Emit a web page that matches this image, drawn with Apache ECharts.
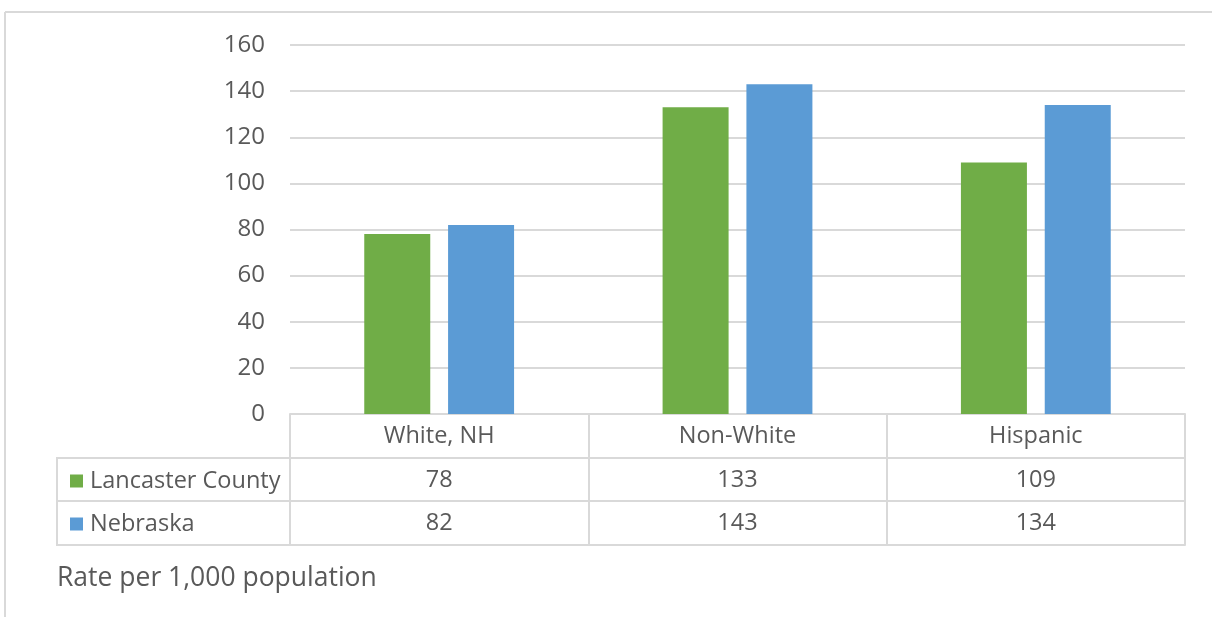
<!DOCTYPE html>
<html><head><meta charset="utf-8">
<script src="https://cdn.jsdelivr.net/npm/echarts@6/dist/echarts.min.js"></script>
<style>html,body{margin:0;padding:0;background:#fff;}#c{width:1212px;height:617px;}</style>
</head><body><div id="c"></div>
<script>
const categories = ['White, NH', 'Non-White', 'Hispanic'];
const seriesNames = ['Lancaster County', 'Nebraska'];
const lancaster = [78, 133, 109];
const nebraska = [82, 143, 134];
const yTicks = {min: 0, max: 160, interval: 20};
const caption = 'Rate per 1,000 population';

const FONT = 'Open Sans';
const TXT = '#595959';
const LINE = '#d9d9d9';
const chart = echarts.init(document.getElementById('c'));

function tableAxis(offset, values, tickLen) {
  return {
    type: 'category', data: categories, position: 'bottom', offset: offset,
    axisLine: {show: true, lineStyle: {color: LINE, width: 2}},
    axisTick: {show: true, length: tickLen, lineStyle: {color: LINE, width: 2}},
    axisLabel: {show: !!values, margin: 22, verticalAlign: 'middle', color: TXT,
      fontFamily: FONT, fontSize: 23.5,
      formatter: values ? (v, i) => String(values[i]) : undefined},
    splitLine: {show: false}
  };
}

chart.setOption({
  animation: false,
  grid: {left: 290, right: 27, top: 45, bottom: 203, containLabel: false},
  legend: {
    orient: 'vertical', left: 65, top: 463, itemGap: 17,
    icon: 'rect', itemWidth: 13, itemHeight: 13,
    textStyle: {color: TXT, fontFamily: FONT, fontSize: 23.5, lineHeight: 26, padding: [0,0,0,2]},
    data: seriesNames
  },
  xAxis: [
    tableAxis(0, categories, 44),
    tableAxis(44, lancaster, 43),
    tableAxis(87, nebraska, 44),
    Object.assign(tableAxis(131, null, 0), {axisTick: {show: false}})
  ],
  yAxis: {
    type: 'value', min: yTicks.min, max: yTicks.max, interval: yTicks.interval,
    axisLine: {show: false}, axisTick: {show: false},
    axisLabel: {color: TXT, fontFamily: FONT, fontSize: 24, margin: 25},
    splitLine: {lineStyle: {color: LINE, width: 2}}
  },
  series: [
    {name: seriesNames[0], type: 'bar', data: lancaster, xAxisIndex: 0,
      barWidth: 66, barGap: '27%', itemStyle: {color: '#70AD47'}},
    {name: seriesNames[1], type: 'bar', data: nebraska, xAxisIndex: 0,
      barWidth: 66, barGap: '27%', itemStyle: {color: '#5B9BD5'}}
  ],
  graphic: [
    {type: 'line', shape: {x1: 5, y1: 12, x2: 1212, y2: 12}, style: {stroke: LINE, lineWidth: 2}},
    {type: 'line', shape: {x1: 5, y1: 12, x2: 5, y2: 617}, style: {stroke: LINE, lineWidth: 2}},
    {type: 'line', shape: {x1: 57, y1: 458, x2: 290, y2: 458}, style: {stroke: LINE, lineWidth: 2}},
    {type: 'line', shape: {x1: 57, y1: 501, x2: 290, y2: 501}, style: {stroke: LINE, lineWidth: 2}},
    {type: 'line', shape: {x1: 57, y1: 545, x2: 290, y2: 545}, style: {stroke: LINE, lineWidth: 2}},
    {type: 'line', shape: {x1: 57, y1: 457, x2: 57, y2: 546}, style: {stroke: LINE, lineWidth: 2}},
    {type: 'text', left: 57, top: 565, style: {text: caption, fill: TXT, font: '26.5px ' + FONT}}
  ]
});
</script></body></html>
